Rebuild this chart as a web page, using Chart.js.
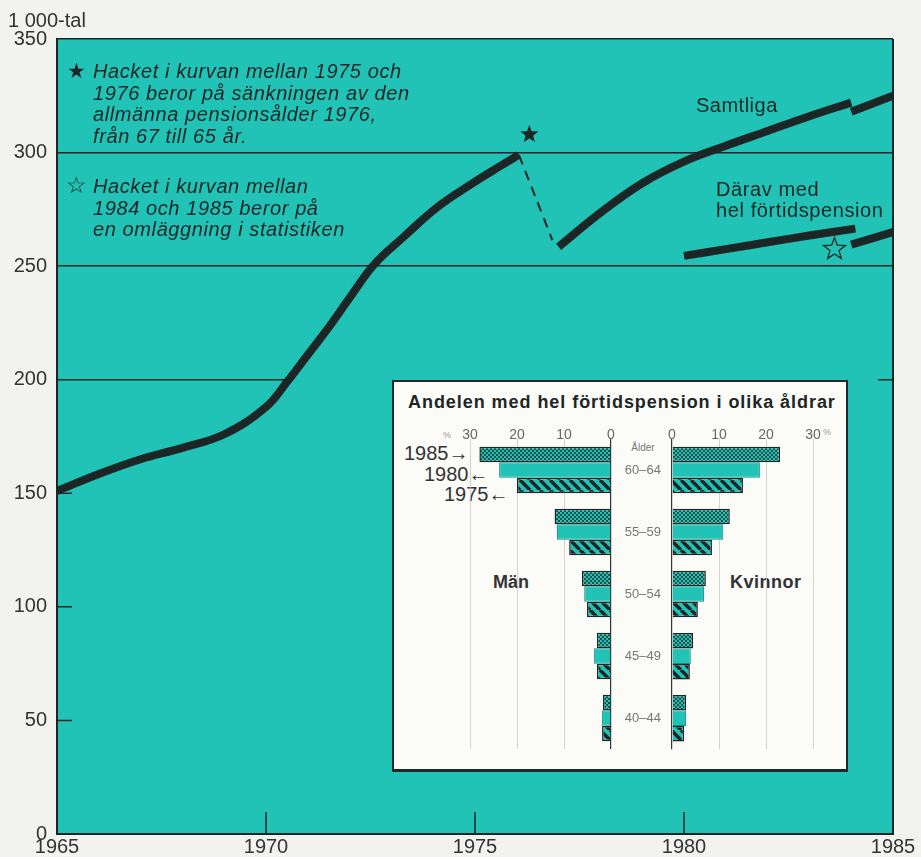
<!DOCTYPE html>
<html lang="sv">
<head>
<meta charset="utf-8">
<title>Förtidspensionärer 1965–1985</title>
<script src="https://cdn.jsdelivr.net/npm/chart.js@4.4.1/dist/chart.umd.min.js"></script>
<style>
  html, body { margin: 0; padding: 0; background: #f2f2ee; }
  body { width: 921px; height: 857px; position: relative; overflow: hidden;
         font-family: "Liberation Sans", Arial, sans-serif; color: #1e2626; }
  canvas { position: absolute; }
  .txt { position: absolute; white-space: nowrap; }
  .note { font-style: italic; font-size: 20px; line-height: 21.5px; letter-spacing: 0.6px; }
  #inset { position: absolute; left: 392px; top: 380px; width: 456px; height: 392px;
           box-sizing: border-box; background: #fbfbf8; border: 2px solid #1e2828; border-bottom-width: 3px; }
</style>
</head>
<body>
<canvas id="main" width="921" height="857" style="left:0;top:0"></canvas>

<div class="txt" style="left:8px;top:8px;font-size:20px;line-height:24px;color:#333">1 000-tal</div>

<div class="txt" style="left:67px;top:60px;font-size:21px;line-height:22px">★</div>
<div class="txt note" style="left:93px;top:61px">Hacket i kurvan mellan 1975 och<br>1976 beror på sänkningen av den<br>allmänna pensionsålder 1976,<br>från 67 till 65 år.</div>
<div class="txt" style="left:66px;top:173px;font-size:23px;line-height:24px">☆</div>
<div class="txt note" style="left:93px;top:176px">Hacket i kurvan mellan<br>1984 och 1985 beror på<br>en omläggning i statistiken</div>

<div class="txt" style="left:696px;top:94px;font-size:20px;line-height:22px;letter-spacing:0.5px">Samtliga</div>
<div class="txt" style="left:716px;top:179px;font-size:20px;line-height:21px;letter-spacing:0.6px">Därav med<br>hel förtidspension</div>

<div id="inset"></div>
<div class="txt" style="left:408px;top:392px;font-size:18px;line-height:20px;font-weight:bold;letter-spacing:0.95px">Andelen med hel förtidspension i olika åldrar</div>
<div class="txt" style="left:443px;top:430px;font-size:9px;color:#999">%</div>
<div class="txt" style="left:823px;top:427px;font-size:9px;color:#999">%</div>
<div class="txt" style="left:622px;top:442px;width:42px;text-align:center;font-size:10px;color:#777">Ålder</div>
<div class="txt" style="left:404px;top:441px;font-size:20px;line-height:24px;color:#333">1985→</div>
<div class="txt" style="left:424px;top:462px;font-size:20px;line-height:24px;color:#333">1980←</div>
<div class="txt" style="left:444px;top:482px;font-size:20px;line-height:24px;color:#333">1975←</div>
<div class="txt" style="left:493px;top:571px;font-size:18px;line-height:22px;font-weight:bold;color:#333">Män</div>
<div class="txt" style="left:730px;top:571px;font-size:18px;line-height:22px;font-weight:bold;color:#333;letter-spacing:0.5px">Kvinnor</div>

<canvas id="man" width="161" height="331" style="left:460px;top:420px"></canvas>
<canvas id="kvinna" width="212" height="348" style="left:611px;top:420px"></canvas>

<script>
// Samtliga förtidspensionärer (1 000-tal)
const years1 = [1965, 1966, 1967, 1968, 1969, 1970, 1970.5, 1971, 1971.5, 1972, 1972.6, 1973.3, 1974.1, 1974.9, 1975.6, 1976.05];
const samtliga1 = [151, 158.5, 165, 170, 176, 188, 199, 211, 223, 236, 251, 263, 276, 286, 294, 299];
const hackYears = [1976.05, 1976.85];
const hackValues = [299, 261.5];
const years2 = [1977, 1978, 1979, 1980, 1981, 1982, 1983, 1984];
const samtliga2 = [258.5, 273.5, 286.5, 296, 303, 309.5, 316, 322];
const years3 = [1984, 1985];
const samtliga3 = [318, 325];

// Därav med hel förtidspension
const daravYears1 = [1980, 1981, 1982, 1983, 1984.1];
const darav1 = [254.5, 257.5, 260.5, 263.5, 266.5];
const daravYears2 = [1984, 1985];
const darav2 = [259.5, 265];

// stjärnor vid hacken
const starYears = [1976.3, 1983.6];
const starValues = [308, 257.5];
const starFilled = [true, false];

// axlar
const xTicks = [1965, 1970, 1975, 1980, 1985];
const yTicks = [0, 50, 100, 150, 200, 250, 300, 350];
const gridValues = [250, 300, 350];
const leftMarks = [50, 100, 150];
const rightMarks = [200];
const bottomMarks = [1970, 1975, 1980];
const stubYears = [1965, 1970.55];
const stubValues = [200, 200];

// infällt diagram: andel (%) med hel förtidspension
const ages = ['60–64', '55–59', '50–54', '45–49', '40–44'];
const barYears = ['1985', '1980', '1975'];
const man1985 = [28, 12, 6.2, 3.0, 1.7];
const man1980 = [23.8, 11.5, 5.7, 3.6, 1.9];
const man1975 = [20, 8.9, 5.1, 3.0, 1.9];
const kv1985 = [23, 12.3, 7.2, 4.5, 3.0];
const kv1980 = [18.7, 10.9, 6.8, 4.0, 3.0];
const kv1975 = [15.1, 8.5, 5.5, 3.8, 2.6];
const pctTicks = [0, 10, 20, 30];

const teal = '#22c3b7';
const dark = '#1c2626';

Chart.defaults.font.family = '"Liberation Sans", Arial, sans-serif';

function toXY(xs, ys) {
    return xs.map((x, i) => ({ x: x, y: ys[i] }));
}

function seg(xs, ys, extra) {
    return Object.assign({
        data: toXY(xs, ys),
        borderColor: dark,
        borderWidth: 8,
        pointRadius: 0,
        tension: 0.4,
        borderCapStyle: 'butt'
    }, extra || {});
}

function starPath(ctx, cx, cy, R, r) {
    ctx.beginPath();
    for (let i = 0; i < 10; i++) {
        const rad = i % 2 === 0 ? R : r;
        const a = -Math.PI / 2 + i * Math.PI / 5;
        const px = cx + rad * Math.cos(a), py = cy + rad * Math.sin(a);
        if (i === 0) ctx.moveTo(px, py); else ctx.lineTo(px, py);
    }
    ctx.closePath();
}

const frame = {
    id: 'frame',
    beforeDraw(chart) {
        const { ctx, chartArea: a } = chart;
        ctx.save();
        ctx.fillStyle = teal;
        ctx.fillRect(a.left, a.top, a.right - a.left, a.bottom - a.top);
        ctx.restore();
    },
    beforeDatasetsDraw(chart) {
        const { ctx, chartArea: a, scales: { x, y } } = chart;
        ctx.save();
        ctx.strokeStyle = dark;
        ctx.lineWidth = 1.5;
        ctx.beginPath();
        leftMarks.forEach(v => { const py = y.getPixelForValue(v); ctx.moveTo(a.left, py); ctx.lineTo(a.left + 15, py); });
        rightMarks.forEach(v => { const py = y.getPixelForValue(v); ctx.moveTo(a.right - 15, py); ctx.lineTo(a.right, py); });
        bottomMarks.forEach(v => { const px = x.getPixelForValue(v); ctx.moveTo(px, a.bottom); ctx.lineTo(px, a.bottom - 22); });
        ctx.stroke();
        ctx.lineWidth = 2;
        ctx.beginPath();
        ctx.moveTo(a.right, a.top);
        ctx.lineTo(a.right, a.bottom);
        ctx.stroke();
        ctx.restore();
    },
    afterDatasetsDraw(chart) {
        const { ctx, scales: { x, y } } = chart;
        ctx.save();
        starYears.forEach((yr, i) => {
            const px = x.getPixelForValue(yr), py = y.getPixelForValue(starValues[i]);
            if (starFilled[i]) {
                starPath(ctx, px, py, 9.5, 4);
                ctx.fillStyle = dark;
                ctx.fill();
            } else {
                starPath(ctx, px, py, 11.5, 4.8);
                ctx.fillStyle = teal;
                ctx.fill();
                ctx.strokeStyle = dark;
                ctx.lineWidth = 1.3;
                ctx.stroke();
            }
        });
        ctx.restore();
    }
};

new Chart(document.getElementById('main'), {
    type: 'line',
    data: {
        datasets: [
            seg(stubYears, stubValues, { borderWidth: 1.5 }),
            seg(years1, samtliga1),
            seg(hackYears, hackValues, { borderWidth: 2, borderDash: [10, 7] }),
            seg(years2, samtliga2),
            seg(years3, samtliga3),
            seg(daravYears1, darav1),
            seg(daravYears2, darav2)
        ]
    },
    options: {
        responsive: false,
        animation: false,
        devicePixelRatio: 1,
        layout: { padding: { left: 0, right: 28, top: 39, bottom: 0 } },
        plugins: { legend: { display: false }, tooltip: { enabled: false } },
        scales: {
            x: {
                type: 'linear', min: 1965, max: 1985,
                afterBuildTicks: s => { s.ticks = xTicks.map(v => ({ value: v })); },
                ticks: { font: { size: 20 }, color: '#333', padding: 1, maxRotation: 0, autoSkip: false,
                         callback: v => String(v) },
                grid: { display: false, drawTicks: false },
                border: { color: dark, width: 2 },
                afterFit: s => { s.height = 23; }
            },
            y: {
                min: 0, max: 350,
                afterBuildTicks: s => { s.ticks = yTicks.map(v => ({ value: v })); },
                ticks: { font: { size: 20 }, color: '#333', padding: 10 },
                grid: {
                    drawTicks: false,
                    lineWidth: 1.5,
                    color: c => (c.tick && gridValues.includes(c.tick.value)) ? dark : 'rgba(0,0,0,0)'
                },
                border: { color: dark, width: 2 },
                afterFit: s => { s.width = 57; }
            }
        }
    },
    plugins: [frame]
});

// mönster för staplarna
function checkPattern() {
    const c = document.createElement('canvas');
    c.width = 4; c.height = 4;
    const g = c.getContext('2d');
    g.fillStyle = '#1d4f4b';
    g.fillRect(0, 0, 4, 4);
    g.fillStyle = teal;
    g.fillRect(0, 0, 2, 2);
    g.fillRect(2, 2, 2, 2);
    return g.createPattern(c, 'repeat');
}

function stripePattern() {
    const c = document.createElement('canvas');
    c.width = 10; c.height = 10;
    const g = c.getContext('2d');
    g.fillStyle = teal;
    g.fillRect(0, 0, 10, 10);
    g.strokeStyle = dark;
    g.lineWidth = 3.5;
    g.beginPath();
    [-10, 0, 10].forEach(k => { g.moveTo(k, 0); g.lineTo(k + 10, 10); });
    g.stroke();
    return g.createPattern(c, 'repeat');
}

const fills = [checkPattern(), teal, stripePattern()];
const edges = [dark, '#178f86', dark];

function barSets(series) {
    return series.map((vals, i) => ({
        label: barYears[i],
        data: vals,
        backgroundColor: fills[i],
        borderColor: edges[i],
        borderWidth: i === 1 ? 1 : 1.5,
        categoryPercentage: 0.75,
        barPercentage: 1.0
    }));
}

// procentetiketter ovanför stapelytan, placerade via x-skalan
const pctLabels = {
    id: 'pctLabels',
    afterDraw(chart) {
        const { ctx, chartArea: a, scales: { x } } = chart;
        ctx.save();
        ctx.font = '14px "Liberation Sans", Arial, sans-serif';
        ctx.fillStyle = '#666';
        ctx.textAlign = 'center';
        ctx.textBaseline = 'middle';
        pctTicks.forEach(v => ctx.fillText(String(v), x.getPixelForValue(v), a.top - 4));
        ctx.restore();
    }
};

function pctAxis(reverse) {
    return {
        position: 'top', min: 0, max: 30, reverse: reverse,
        afterBuildTicks: s => { s.ticks = pctTicks.map(v => ({ value: v })); },
        ticks: { display: false },
        grid: {
            drawTicks: false,
            lineWidth: c => (c.tick && c.tick.value === 0) ? 1.2 : 0.8,
            color: c => (c.tick && c.tick.value === 0) ? '#333' : '#c8c8c4'
        },
        border: { display: false }
    };
}

const barOptions = (reverse, yAxis, pad) => ({
    indexAxis: 'y',
    responsive: false,
    animation: false,
    devicePixelRatio: 1,
    layout: { padding: pad },
    plugins: { legend: { display: false }, tooltip: { enabled: false } },
    scales: { x: pctAxis(reverse), y: yAxis }
});

new Chart(document.getElementById('man'), {
    type: 'bar',
    data: { labels: ages, datasets: barSets([man1985, man1980, man1975]) },
    options: barOptions(true, { display: false }, { left: 10, right: 10, top: 19, bottom: 2 }),
    plugins: [pctLabels]
});

new Chart(document.getElementById('kvinna'), {
    type: 'bar',
    data: { labels: ages, datasets: barSets([kv1985, kv1980, kv1975]) },
    options: barOptions(false, {
        position: 'left',
        ticks: { font: { size: 13 }, color: '#777', crossAlign: 'center', padding: 11 },
        grid: { display: false, drawTicks: false },
        border: { display: false },
        afterFit: s => { s.width = 61; }
    }, { left: 0, right: 10, top: 19, bottom: 2 }),
    plugins: [pctLabels]
});
</script>
</body>
</html>
